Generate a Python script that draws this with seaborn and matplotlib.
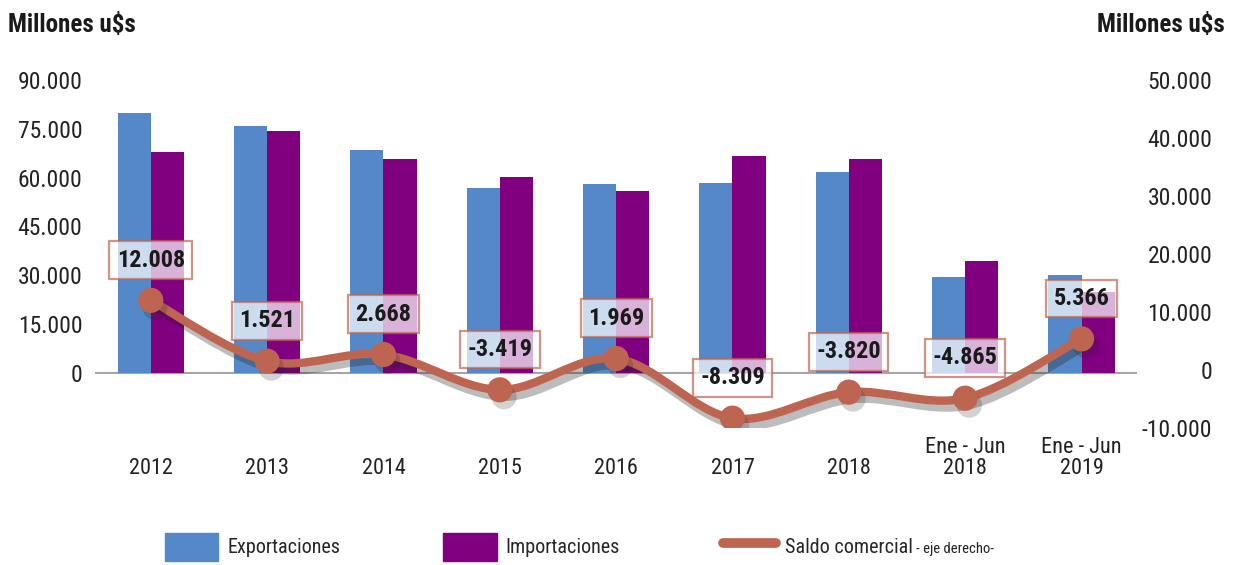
import numpy as np
import pandas as pd
import matplotlib
matplotlib.use("Agg")
import matplotlib.pyplot as plt
import matplotlib.patheffects as pe
from matplotlib import font_manager
from matplotlib.path import Path
from matplotlib.patches import PathPatch, Patch
from matplotlib.lines import Line2D
import seaborn as sns

periodos = ["2012", "2013", "2014", "2015", "2016", "2017", "2018",
            "Ene - Jun\n2018", "Ene - Jun\n2019"]
exportaciones = [79982, 75963, 68404, 56788, 57909, 58384, 61782, 29420, 30110]
importaciones = [67974, 74442, 65736, 60207, 55940, 66693, 65602, 34285, 24744]
saldo = [12008, 1521, 2668, -3419, 1969, -8309, -3820, -4865, 5366]
saldo_txt = ["12.008", "1.521", "2.668", "-3.419", "1.969", "-8.309",
             "-3.820", "-4.865", "5.366"]

ticks_izq = [0, 15000, 30000, 45000, 60000, 75000, 90000]
ticks_der = [-10000, 0, 10000, 20000, 30000, 40000, 50000]

AZUL = "#5588C8"
VIOLETA = "#800080"
LINEA = "#BE6552"


def miles(v):
    return f"{v:,.0f}".replace(",", ".")


def elegir_fuente():
    fuentes = font_manager.fontManager.ttflist
    nombres = {f.name for f in fuentes}
    for n in ["Liberation Sans Narrow", "Roboto Condensed", "Open Sans Condensed"]:
        if n in nombres:
            return n, "normal"
    for f in fuentes:
        if f.name == "DejaVu Sans" and f.stretch in ("condensed", "semi-condensed"):
            return "DejaVu Sans", "condensed"
    return "DejaVu Sans", "normal"


def main():
    sns.set_style("white")
    fam, stretch = elegir_fuente()
    plt.rcParams["font.family"] = [fam, "DejaVu Sans"]
    plt.rcParams["font.stretch"] = stretch

    df = pd.DataFrame({
        "periodo": periodos * 2,
        "serie": ["Exportaciones"] * len(periodos) + ["Importaciones"] * len(periodos),
        "valor": exportaciones + importaciones,
    })

    fig = plt.figure(figsize=(12.38, 5.65), dpi=100)
    ax = fig.add_axes([0.0767, 0.2425, 0.842, 0.616])

    sns.barplot(data=df, x="periodo", y="valor", hue="serie",
                palette=[AZUL, VIOLETA], saturation=1, width=0.57,
                linewidth=0, legend=False, ax=ax, zorder=2)
    ax.set_xlim(-0.48, len(periodos) - 0.52)
    ax.set_ylim(-16900, 90000)
    ax.set_yticks(ticks_izq)
    ax.set_yticklabels([miles(t) for t in ticks_izq], fontsize=17, color="#222222")
    ax.set_xlabel("")
    ax.set_ylabel("")
    ax.tick_params(axis="y", length=0, pad=9)
    ax.tick_params(axis="x", length=0, pad=37)
    ax.set_xticks(range(len(periodos)))
    ax.set_xticklabels(periodos, fontsize=16, color="#222222", va="bottom",
                       linespacing=1.0)
    ax.axhline(0, color="#A6A6A6", lw=1.5, zorder=1)
    for s in ax.spines.values():
        s.set_visible(False)

    # eje derecho: saldo comercial
    ax2 = ax.twinx()
    ax2.set_ylim(-10000, 50000)
    ax2.set_yticks(ticks_der)
    ax2.set_yticklabels([miles(t) for t in ticks_der], fontsize=17,
                        color="#222222", ha="right")
    ax2.tick_params(axis="y", length=0, pad=54)
    for s in ax2.spines.values():
        s.set_visible(False)

    sombra = pe.SimpleLineShadow(offset=(3, -5), alpha=0.3, shadow_color="#222222")

    # curva suavizada (catmull-rom -> bezier) entre los puntos
    xs = np.arange(len(saldo), dtype=float)
    pts = np.column_stack([xs, np.array(saldo, dtype=float)])
    verts = [pts[0]]
    codes = [Path.MOVETO]
    n = len(pts)
    for i in range(n - 1):
        p0 = pts[max(i - 1, 0)]
        p1 = pts[i]
        p2 = pts[i + 1]
        p3 = pts[min(i + 2, n - 1)]
        verts += [p1 + (p2 - p0) / 6, p2 - (p3 - p1) / 6, p2]
        codes += [Path.CURVE4] * 3
    curva = PathPatch(Path(verts, codes), facecolor="none", edgecolor=LINEA,
                      lw=6, capstyle="round", joinstyle="round", zorder=3)
    curva.set_path_effects([sombra, pe.Normal()])
    ax2.add_patch(curva)
    sns.scatterplot(x=xs, y=saldo, ax=ax2, s=330, color=LINEA,
                    edgecolor="none", zorder=4, legend=False)
    ax2.collections[-1].set_path_effects([
        pe.SimplePatchShadow(offset=(3, -5), alpha=0.2, shadow_rgbFace="#222222"),
        pe.Normal()])

    for x, y, t in zip(xs, saldo, saldo_txt):
        ax2.annotate(t, (x, y), xytext=(0, 29), textcoords="offset points",
                     ha="center", va="center", fontsize=17.5, fontweight="bold",
                     color="#1A1A1A", zorder=6,
                     bbox=dict(boxstyle="square,pad=0.3", fc="white",
                               alpha=0.7, ec=LINEA, lw=1.6))
    ax2.set_xlim(ax.get_xlim())

    # titulos de ejes
    fig.text(8 / 1238, 1 - 25 / 565, "Millones u$s", fontsize=18,
             fontweight="bold", color="#1A1A1A", ha="left", va="center")
    fig.text(1225 / 1238, 1 - 25 / 565, "Millones u$s", fontsize=18,
             fontweight="bold", color="#1A1A1A", ha="right", va="center")

    # leyenda
    handles = [Patch(color=AZUL), Patch(color=VIOLETA),
               Line2D([0], [0], color=LINEA, lw=7, solid_capstyle="round")]
    leg = fig.legend(handles, ["Exportaciones", "Importaciones", "Saldo comercial"],
                     loc="center left", bbox_to_anchor=(147 / 1238, 1 - 547 / 565),
                     ncol=3, frameon=False, fontsize=14.5, handlelength=2.65,
                     handleheight=1.8, handletextpad=0.45, columnspacing=5.1)
    fig.canvas.draw()
    bb = leg.get_texts()[2].get_window_extent()
    inv = fig.transFigure.inverted()
    x1, y0 = inv.transform((bb.x1 + 3, bb.y0 + 1))
    fig.text(x1, y0, "- eje derecho-", fontsize=10.5, color="#222222",
             ha="left", va="bottom")

    fig.savefig("out.png", dpi=100)


if __name__ == "__main__":
    main()
